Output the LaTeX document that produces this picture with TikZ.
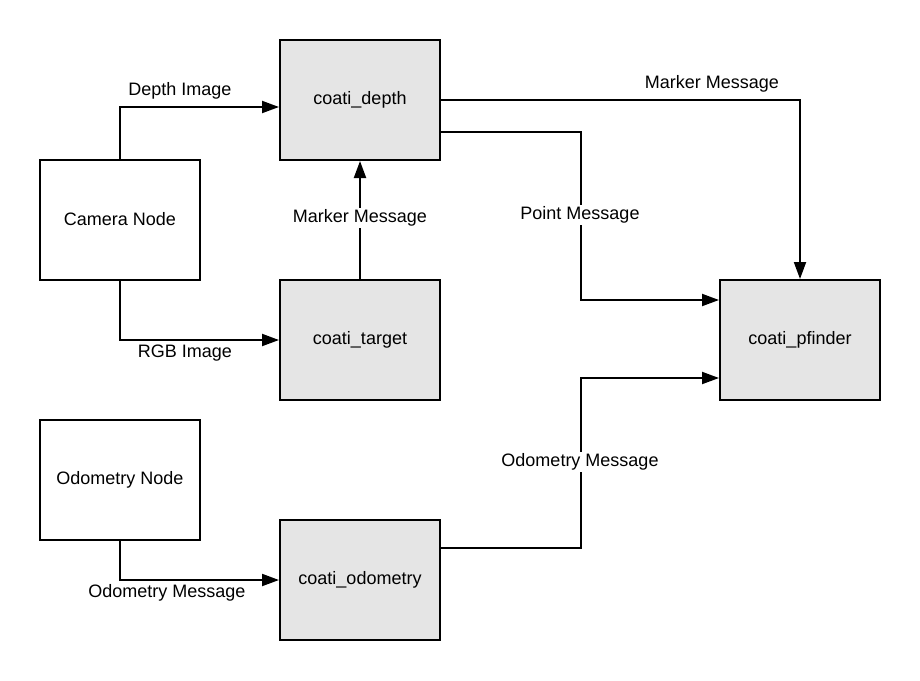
\documentclass[tikz,border=0pt]{standalone}
\usepackage{fontspec}
\setmainfont{Liberation Sans}
\usetikzlibrary{arrows.meta,calc}
\begin{document}
\begin{tikzpicture}[x=1pt,y=-1pt,
  every node/.style={font=\fontsize{18}{21}\selectfont},
  plain/.style={draw=black,line width=2pt,minimum width=160pt,minimum height=120pt,inner sep=0pt,fill=white},
  proc/.style={plain,fill=gray!20},
  conn/.style={line width=2pt,-{Triangle[length=17pt,width=12pt]}},
  lbl/.style={inner sep=2pt},
  onlbl/.style={inner sep=2pt,fill=white}]
\useasboundingbox (0,0) rectangle (920,680);
\node[plain] (cam) at (120,220) {\raisebox{2pt}{Camera Node}};
\node[plain] (onode) at (120,480) {\raisebox{2pt}{Odometry Node}};
\node[proc] (depth) at (360,100) {\raisebox{2pt}{coati\_depth}};
\node[proc] (target) at (360,340) {\raisebox{2pt}{coati\_target}};
\node[proc] (codo) at (360,580) {\raisebox{2pt}{coati\_odometry}};
\node[proc] (pf) at (800,340) {\raisebox{2pt}{coati\_pfinder}};
% connectors
\draw[conn] (cam.north) |- ([yshift=-7pt]depth.west);
\draw[conn] (cam.south) |- (target.west);
\draw[conn] (target.north) -- (depth.south);
\draw[conn] (depth.east) -| (pf.north);
\draw[conn] ([yshift=-32pt]depth.east) -- ++(140,0) |- ([yshift=40pt]pf.west);
\draw[conn] ([yshift=32pt]codo.east) -- ++(140,0) |- ([yshift=-38pt]pf.west);
\draw[conn] (onode.south) |- (codo.west);
% labels
\node[lbl] (l1) at (180,91) {Depth Image};
\node[lbl] (l2) at (185,353) {RGB Image};
\node[onlbl] (l3) at (360,218) {Marker Message};
\node[lbl] (l4) at (712,84) {Marker Message};
\node[onlbl] (l5) at (580,215) {Point Message};
\node[onlbl] (l6) at (580,462) {Odometry Message};
\node[lbl] (l7) at (167,593) {Odometry Message};
\end{tikzpicture}
\end{document}
